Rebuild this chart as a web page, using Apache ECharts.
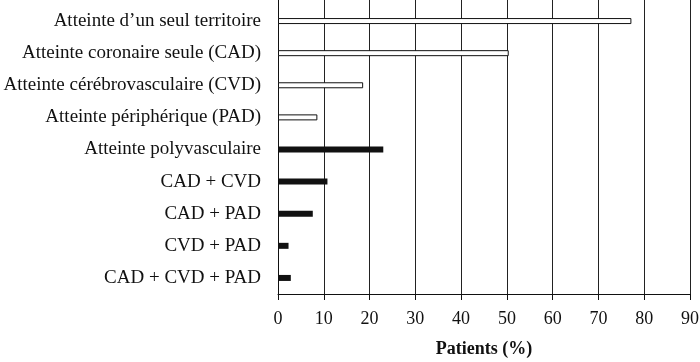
<!DOCTYPE html>
<html>
<head>
<meta charset="utf-8">
<script src="https://cdn.jsdelivr.net/npm/echarts@6/dist/echarts.min.js"></script>
<style>html,body{margin:0;padding:0;background:#fff}#c{width:700px;height:362px}</style>
</head>
<body>
<div id="c"></div>
<script>
const categories = [
  "Atteinte d\u2019un seul territoire",
  "Atteinte coronaire seule (CAD)",
  "Atteinte cérébrovasculaire (CVD)",
  "Atteinte périphérique (PAD)",
  "Atteinte polyvasculaire",
  "CAD + CVD",
  "CAD + PAD",
  "CVD + PAD",
  "CAD + CVD + PAD"
];
const singleTerritory = [77.2, 50.4, 18.6, 8.6];
const polyvascular = [23.0, 10.8, 7.6, 2.3, 2.8];
const xTicks = [0, 10, 20, 30, 40, 50, 60, 70, 80, 90];

const hollowData = categories.map((c, i) => i < singleTerritory.length ? singleTerritory[i] : '-');
const solidData = categories.map((c, i) => i >= singleTerritory.length ? polyvascular[i - singleTerritory.length] : '-');

const font = '"Liberation Serif", "Times New Roman", serif';
const ink = '#111';
const chart = echarts.init(document.getElementById('c'), null, {renderer: 'canvas'});
chart.setOption({
  animation: false,
  backgroundColor: '#fff',
  grid: [
    {left: 278, right: 10, top: 5, bottom: 68, containLabel: false, outerBoundsMode: 'none'},
    {left: 278, right: 10, top: 0, bottom: 68, containLabel: false, outerBoundsMode: 'none'}
  ],
  xAxis: [
    {
      type: 'value', gridIndex: 0, min: xTicks[0], max: xTicks[xTicks.length - 1], interval: 10,
      axisLine: {show: true, lineStyle: {color: ink, width: 1}},
      axisTick: {show: true, length: 6, lineStyle: {color: ink}},
      axisLabel: {color: ink, fontFamily: font, fontSize: 18, margin: 16},
      splitLine: {show: false},
      name: 'Patients (%)', nameLocation: 'middle', nameGap: 46,
      nameTextStyle: {color: ink, fontFamily: font, fontSize: 18, fontWeight: 'bold'}
    },
    {
      type: 'value', gridIndex: 1, min: xTicks[0], max: xTicks[xTicks.length - 1], interval: 10,
      axisLine: {show: false}, axisTick: {show: false}, axisLabel: {show: false},
      splitLine: {show: true, lineStyle: {color: '#222', width: 1}}
    }
  ],
  yAxis: [
    {
      type: 'category', gridIndex: 0, data: categories, inverse: true,
      axisLine: {show: false}, axisTick: {show: false},
      axisLabel: {color: ink, fontFamily: font, fontSize: 19, margin: 17}
    },
    {
      type: 'category', gridIndex: 1, data: categories, inverse: true,
      axisLine: {show: true, lineStyle: {color: ink, width: 1}}, axisTick: {show: false}, axisLabel: {show: false}
    }
  ],
  series: [
    {
      type: 'bar', xAxisIndex: 0, yAxisIndex: 0, data: hollowData, barWidth: 6, barGap: '-100%',
      itemStyle: {color: '#fff', borderColor: ink, borderWidth: 1}, z: 5
    },
    {
      type: 'bar', xAxisIndex: 0, yAxisIndex: 0, data: solidData, barWidth: 6, barGap: '-100%',
      itemStyle: {color: ink}, z: 5
    }
  ]
});
</script>
</body>
</html>
